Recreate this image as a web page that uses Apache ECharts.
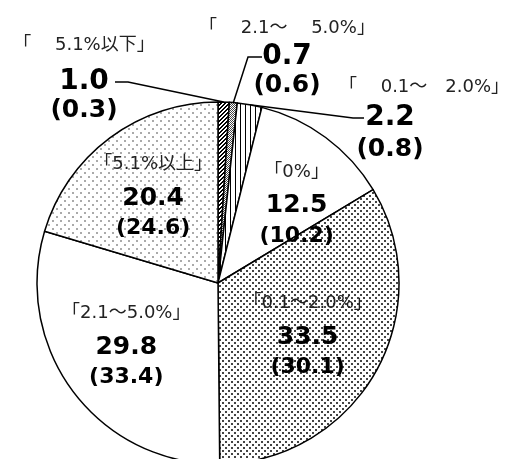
<!DOCTYPE html>
<html>
<head>
<meta charset="utf-8">
<script src="https://cdn.jsdelivr.net/npm/echarts@6/dist/echarts.min.js"></script>
<style>
html, body { margin: 0; padding: 0; background: #fff; }
#chart { width: 511px; height: 459px; }
</style>
</head>
<body>
<div id="chart"></div>
<script>
// slices, clockwise from 12 o'clock
const headers = ['「　 5.1%以下」', '「　 2.1～　 5.0%」', '「　 0.1～　2.0%」', '「0%」', '「0.1～2.0%」', '「2.1～5.0%」', '「5.1%以上」'];
const values = [1.0, 0.7, 2.2, 12.5, 33.5, 29.8, 20.4];
const prevValues = [0.3, 0.6, 0.8, 10.2, 30.1, 33.4, 24.6];

// fill patterns drawn on small canvases
function makePattern(kind) {
    const c = document.createElement('canvas');
    const ctx = c.getContext('2d');
    if (kind === 'hatch') {
        c.width = c.height = 4;
        ctx.fillStyle = '#fff'; ctx.fillRect(0, 0, 4, 4);
        ctx.fillStyle = '#000';
        for (let i = 0; i < 4; i++) {
            ctx.fillRect(i, 3 - i, 1, 1);
            ctx.fillRect(i, (4 - i) % 4, 1, 1);
        }
    } else if (kind === 'fine') {
        c.width = c.height = 2;
        ctx.fillStyle = '#fff'; ctx.fillRect(0, 0, 2, 2);
        ctx.fillStyle = '#444';
        ctx.fillRect(0, 0, 1, 1); ctx.fillRect(1, 1, 1, 1);
    } else if (kind === 'vlines') {
        c.width = 5; c.height = 1;
        ctx.fillStyle = '#fff'; ctx.fillRect(0, 0, 5, 1);
        ctx.fillStyle = '#000'; ctx.fillRect(0, 0, 1, 1);
    } else if (kind === 'dense') {
        c.width = c.height = 6;
        ctx.fillStyle = '#fff'; ctx.fillRect(0, 0, 6, 6);
        ctx.fillStyle = '#444';
        ctx.fillRect(0, 0, 2, 2); ctx.fillRect(3, 3, 2, 2);
    } else if (kind === 'sparse') {
        c.width = c.height = 8;
        ctx.fillStyle = '#fff'; ctx.fillRect(0, 0, 8, 8);
        ctx.fillStyle = '#aaa';
        ctx.fillRect(0, 0, 2, 2); ctx.fillRect(4, 4, 2, 2);
    } else {
        return '#fff';
    }
    return { image: c, repeat: 'repeat' };
}
const fillKinds = ['hatch', 'fine', 'vlines', 'plain', 'dense', 'plain', 'sparse'];

// outside labels: [block centre x, block top y, line side, gap from centre, horizontal tick]
const outside = {
    0: [84, 23, 1, 31, 13],
    1: [287, 13, -1, 25, 14],
    2: [390, 71, -1, 26, 11]
};
// line heights for header / value / paren rows
const rows = {
    0: [44, 30, 26],
    1: [30, 28, 28],
    2: [32, 30, 32]
};
const insideOffset = {
    3: [23, -6],
    4: [8, 5],
    5: [-17, 4],
    6: [-9, -14]
};

const headFont = { fontFamily: '"DejaVu Sans", "Noto Sans CJK JP"', fontSize: 18, color: '#222' };
const numFont = { fontFamily: 'DejaVu Sans', fontWeight: 'bold', color: '#000' };

const rich = {
    h: Object.assign({ lineHeight: 36 }, headFont),
    v: Object.assign({ fontSize: 25, lineHeight: 32 }, numFont),
    p: Object.assign({ fontSize: 22, lineHeight: 28 }, numFont)
};
Object.keys(rows).forEach(i => {
    rich['h' + i] = Object.assign({ lineHeight: rows[i][0], padding: i === '2' ? [0, 0, 0, 68] : 0 }, headFont);
    rich['v' + i] = Object.assign({ fontSize: 28, lineHeight: rows[i][1] }, numFont);
    rich['p' + i] = Object.assign({ fontSize: 25, lineHeight: rows[i][2] }, numFont);
});

const data = values.map((v, i) => {
    const isOut = outside[i] !== undefined;
    const k = isOut ? i : '';
    return {
        name: headers[i],
        value: v,
        itemStyle: { color: makePattern(fillKinds[i]) },
        label: isOut
            ? { position: 'outside' }
            : { position: 'inside', offset: insideOffset[i] },
        labelLine: { show: isOut },
        _fmt: `{h${k}|${headers[i]}}\n{v${k}|${v.toFixed(1)}}\n{p${k}|(${prevValues[i].toFixed(1)})}`
    };
});

const chart = echarts.init(document.getElementById('chart'));
chart.setOption({
    animation: false,
    series: [{
        type: 'pie',
        center: [218, 283],
        radius: 181,
        startAngle: 90,
        clockwise: true,
        avoidLabelOverlap: false,
        silent: true,
        itemStyle: { borderColor: '#000', borderWidth: 1.5 },
        label: {
            show: true,
            formatter: p => data[p.dataIndex]._fmt,
            align: 'center',
            rich: rich
        },
        labelLine: {
            lineStyle: { color: '#000', width: 1.5 }
        },
        labelLayout: params => {
            const o = outside[params.dataIndex];
            if (!o) return {};
            const r = rows[params.dataIndex];
            const lineY = o[1] + r[0] + r[1] / 2;
            const endX = o[0] + o[2] * o[3];
            const bendX = endX + o[2] * o[4];
            const anchor = params.labelLinePoints ? params.labelLinePoints[0]
                : [params.rect.x + params.rect.width / 2, params.rect.y];
            return {
                x: o[0],
                y: o[1],
                align: 'center',
                verticalAlign: 'top',
                labelLinePoints: [anchor, [bendX, lineY], [endX, lineY]]
            };
        },
        data: data
    }]
});
</script>
</body>
</html>
